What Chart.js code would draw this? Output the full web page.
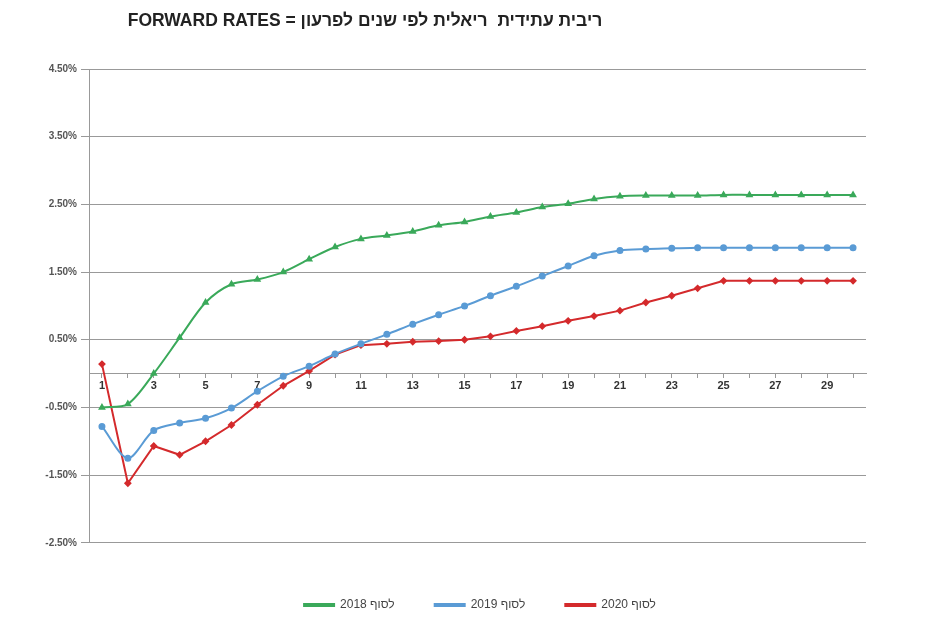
<!DOCTYPE html>
<html>
<head>
<meta charset="utf-8">
<script src="https://cdn.jsdelivr.net/npm/chart.js@4"></script>
<style>
  html, body { margin: 0; padding: 0; background: #fff; }
  #wrap { width: 931px; height: 624px; position: relative; }
</style>
</head>
<body>
<div id="wrap"><canvas id="forwardChart"></canvas></div>
<script>
// Chart title and series data
const chartTitle = "FORWARD RATES = ריבית עתידית  ריאלית לפי שנים לפרעון";

const years = [1, 2, 3, 4, 5, 6, 7, 8, 9, 10, 11, 12, 13, 14, 15,
  16, 17, 18, 19, 20, 21, 22, 23, 24, 25, 26, 27, 28, 29, 30];

const seriesNames = ["לסוף 2018", "לסוף 2019", "לסוף 2020"];

const rates2018 = [-0.50, -0.45, 0.00, 0.53, 1.05, 1.32, 1.39, 1.50, 1.69, 1.87,
  1.99, 2.04, 2.10, 2.19, 2.24, 2.32, 2.38, 2.46, 2.51, 2.58,
  2.62, 2.63, 2.63, 2.63, 2.64, 2.64, 2.64, 2.64, 2.64, 2.64];

const rates2019 = [-0.78, -1.25, -0.84, -0.73, -0.66, -0.51, -0.26, -0.04, 0.11, 0.29,
  0.44, 0.58, 0.73, 0.87, 1.00, 1.15, 1.29, 1.44, 1.59, 1.74,
  1.82, 1.84, 1.85, 1.86, 1.86, 1.86, 1.86, 1.86, 1.86, 1.86];

const rates2020 = [0.14, -1.62, -1.07, -1.20, -1.00, -0.76, -0.46, -0.18, 0.04, 0.28,
  0.42, 0.44, 0.47, 0.48, 0.50, 0.55, 0.63, 0.70, 0.78, 0.85,
  0.93, 1.05, 1.15, 1.26, 1.37, 1.37, 1.37, 1.37, 1.37, 1.37];

const yTicksMin = -2.5;
const yTicksMax = 4.5;

const fontFamily = "'Liberation Sans', Arial, sans-serif";

// Draw the title where the original has it (left of centre)
const titlePlugin = {
  id: "titleText",
  afterLayout(chart) {
    // legend sits a bit right of the plot centre in the original
    chart.legend.left += 47;
    chart.legend.right += 47;
  },
  afterDraw(chart) {
    const ctx = chart.ctx;
    ctx.save();
    ctx.font = "bold 17.5px " + fontFamily;
    ctx.fillStyle = "#222";
    ctx.textAlign = "center";
    ctx.textBaseline = "middle";
    ctx.fillText(chartTitle, 365, 21);
    ctx.restore();
  },
};

const ctx = document.getElementById("forwardChart").getContext("2d");

new Chart(ctx, {
  type: "line",
  data: {
    labels: years,
    datasets: [
      {
        label: seriesNames[0],
        data: rates2018,
        borderColor: "#3aa95a",
        backgroundColor: "#3aa95a",
        pointStyle: "triangle",
        pointRadius: 2.5,
        borderWidth: 2,
        tension: 0.3,
      },
      {
        label: seriesNames[1],
        data: rates2019,
        borderColor: "#5a9bd5",
        backgroundColor: "#5a9bd5",
        pointStyle: "circle",
        pointRadius: 2.5,
        borderWidth: 2,
        tension: 0.3,
      },
      {
        label: seriesNames[2],
        data: rates2020,
        borderColor: "#d42a2c",
        backgroundColor: "#d42a2c",
        pointStyle: "rectRot",
        pointRadius: 2.5,
        borderWidth: 2,
        tension: 0,
      },
    ],
  },
  options: {
    responsive: true,
    maintainAspectRatio: false,
    animation: false,
    layout: {
      padding: { left: 0, right: 65, top: 69, bottom: 3 },
    },
    plugins: {
      title: { display: false },
      tooltip: { enabled: false },
      legend: {
        position: "bottom",
        // empty legend title used as spacer above the items
        title: { display: true, text: " ", padding: { top: 0, bottom: 3 }, font: { size: 11 } },
        labels: {
          boxWidth: 30,
          boxHeight: 2,
          padding: 40,
          color: "#444",
          font: { family: fontFamily, size: 12 },
        },
      },
    },
    scales: {
      x: {
        type: "category",
        offset: true,
        position: { y: 0 },
        border: { display: true, color: "#999", width: 1 },
        grid: {
          drawOnChartArea: false,
          drawTicks: true,
          tickLength: 4,
          color: "#999",
        },
        ticks: {
          autoSkip: false,
          maxRotation: 0,
          padding: 2,
          color: "#333",
          font: { family: fontFamily, size: 11, weight: "bold" },
          callback: function (value, index) {
            return index % 2 === 0 ? this.getLabelForValue(value) : "";
          },
        },
      },
      y: {
        min: yTicksMin,
        max: yTicksMax,
        border: { display: true, color: "#999", width: 1 },
        grid: {
          color: "#999",
          lineWidth: 1,
          tickLength: 8,
        },
        ticks: {
          stepSize: 1,
          padding: 4,
          color: "#555",
          font: { family: fontFamily, size: 10, weight: "bold" },
          callback: (v) => v.toFixed(2) + "%",
        },
        afterFit: (scale) => {
          scale.width = 89;
        },
      },
    },
  },
  plugins: [titlePlugin],
});
</script>
</body>
</html>
